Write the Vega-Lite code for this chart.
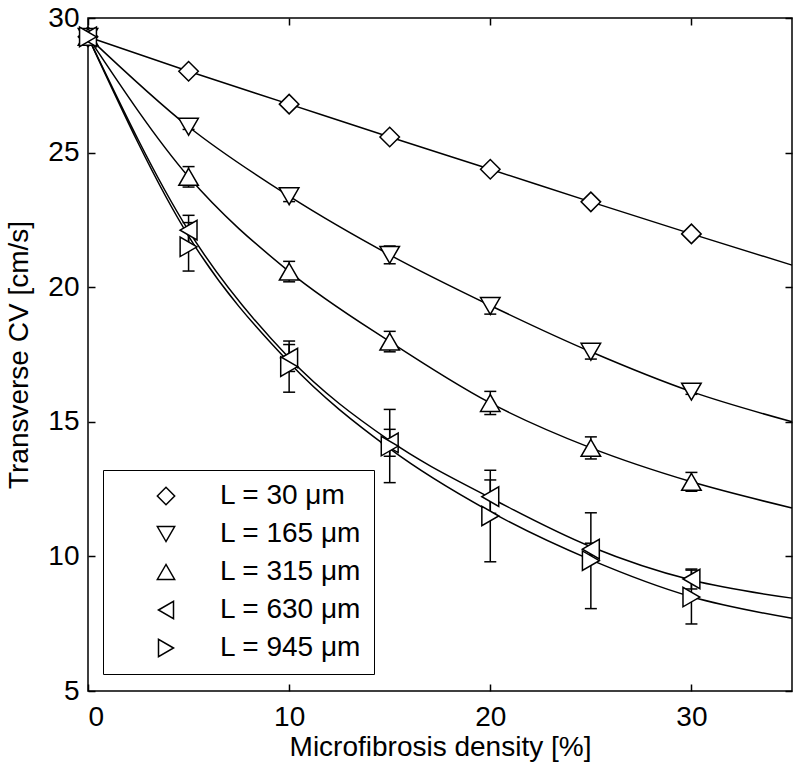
{
  "$schema": "https://vega.github.io/schema/vega-lite/v6.json",
  "width": 704,
  "height": 673,
  "autosize": {"type": "none"},
  "padding": {"left": 88, "top": 18, "right": 8, "bottom": 83},
  "background": "white",
  "config": {
    "view": {"stroke": "black", "strokeWidth": 1.5},
    "font": "Liberation Sans",
    "axis": {
      "domain": false,
      "grid": false,
      "tickSize": -7,
      "tickColor": "black",
      "tickWidth": 1.5,
      "labelFont": "Liberation Sans",
      "labelFontSize": 28,
      "labelColor": "black",
      "titleFont": "Liberation Sans",
      "titleFontSize": 28,
      "titleFontWeight": "normal",
      "titleColor": "black"
    }
  },
  "datasets": {
    "pts": [
      {"d": 0, "v": 29.3, "lo": 29.3, "hi": 29.3, "s": "L = 30 μm"},
      {"d": 5, "v": 28.02, "lo": 27.97, "hi": 28.07, "s": "L = 30 μm"},
      {"d": 10, "v": 26.8, "lo": 26.75, "hi": 26.85, "s": "L = 30 μm"},
      {"d": 15, "v": 25.58, "lo": 25.53, "hi": 25.63, "s": "L = 30 μm"},
      {"d": 20, "v": 24.38, "lo": 24.33, "hi": 24.43, "s": "L = 30 μm"},
      {"d": 25, "v": 23.17, "lo": 23.12, "hi": 23.22, "s": "L = 30 μm"},
      {"d": 30, "v": 21.98, "lo": 21.93, "hi": 22.03, "s": "L = 30 μm"},
      {"d": 0, "v": 29.3, "lo": 29.3, "hi": 29.3, "s": "L = 165 μm"},
      {"d": 5, "v": 25.96, "lo": 25.86, "hi": 26.06, "s": "L = 165 μm"},
      {"d": 10, "v": 23.38, "lo": 23.18, "hi": 23.58, "s": "L = 165 μm"},
      {"d": 15, "v": 21.2, "lo": 20.87, "hi": 21.53, "s": "L = 165 μm"},
      {"d": 20, "v": 19.3, "lo": 19.0, "hi": 19.6, "s": "L = 165 μm"},
      {"d": 25, "v": 17.6, "lo": 17.33, "hi": 17.87, "s": "L = 165 μm"},
      {"d": 30, "v": 16.12, "lo": 16.02, "hi": 16.22, "s": "L = 165 μm"},
      {"d": 0, "v": 29.3, "lo": 29.3, "hi": 29.3, "s": "L = 315 μm"},
      {"d": 5, "v": 24.1, "lo": 23.72, "hi": 24.48, "s": "L = 315 μm"},
      {"d": 10, "v": 20.58, "lo": 20.2, "hi": 20.96, "s": "L = 315 μm"},
      {"d": 15, "v": 17.98, "lo": 17.6, "hi": 18.36, "s": "L = 315 μm"},
      {"d": 20, "v": 15.7, "lo": 15.27, "hi": 16.13, "s": "L = 315 μm"},
      {"d": 25, "v": 14.03, "lo": 13.62, "hi": 14.44, "s": "L = 315 μm"},
      {"d": 30, "v": 12.77, "lo": 12.42, "hi": 13.12, "s": "L = 315 μm"},
      {"d": 0, "v": 29.3, "lo": 29.3, "hi": 29.3, "s": "L = 630 μm"},
      {"d": 5, "v": 22.12, "lo": 21.57, "hi": 22.67, "s": "L = 630 μm"},
      {"d": 10, "v": 17.37, "lo": 16.87, "hi": 17.87, "s": "L = 630 μm"},
      {"d": 15, "v": 14.22, "lo": 13.72, "hi": 14.72, "s": "L = 630 μm"},
      {"d": 20, "v": 12.22, "lo": 11.6, "hi": 12.84, "s": "L = 630 μm"},
      {"d": 25, "v": 10.27, "lo": 10.05, "hi": 10.49, "s": "L = 630 μm"},
      {"d": 30, "v": 9.16, "lo": 8.79, "hi": 9.53, "s": "L = 630 μm"},
      {"d": 0, "v": 29.3, "lo": 29.3, "hi": 29.3, "s": "L = 945 μm"},
      {"d": 5, "v": 21.5, "lo": 20.6, "hi": 22.4, "s": "L = 945 μm"},
      {"d": 10, "v": 17.05, "lo": 16.1, "hi": 18.0, "s": "L = 945 μm"},
      {"d": 15, "v": 14.1, "lo": 12.74, "hi": 15.46, "s": "L = 945 μm"},
      {"d": 20, "v": 11.5, "lo": 9.8, "hi": 13.2, "s": "L = 945 μm"},
      {"d": 25, "v": 9.84, "lo": 8.06, "hi": 11.62, "s": "L = 945 μm"},
      {"d": 30, "v": 8.49, "lo": 7.49, "hi": 9.49, "s": "L = 945 μm"}
    ],
    "fit": [
      {"d": 0, "v": 29.3, "s": "L = 30 μm"},
      {"d": 5, "v": 28.02, "s": "L = 30 μm"},
      {"d": 10, "v": 26.8, "s": "L = 30 μm"},
      {"d": 15, "v": 25.58, "s": "L = 30 μm"},
      {"d": 20, "v": 24.38, "s": "L = 30 μm"},
      {"d": 25, "v": 23.17, "s": "L = 30 μm"},
      {"d": 30, "v": 21.98, "s": "L = 30 μm"},
      {"d": 35, "v": 20.82, "s": "L = 30 μm"},
      {"d": 0, "v": 29.3, "s": "L = 165 μm"},
      {"d": 5, "v": 25.96, "s": "L = 165 μm"},
      {"d": 10, "v": 23.38, "s": "L = 165 μm"},
      {"d": 15, "v": 21.2, "s": "L = 165 μm"},
      {"d": 20, "v": 19.32, "s": "L = 165 μm"},
      {"d": 25, "v": 17.6, "s": "L = 165 μm"},
      {"d": 30, "v": 16.12, "s": "L = 165 μm"},
      {"d": 35, "v": 15.0, "s": "L = 165 μm"},
      {"d": 0, "v": 29.3, "s": "L = 315 μm"},
      {"d": 5, "v": 24.1, "s": "L = 315 μm"},
      {"d": 10, "v": 20.58, "s": "L = 315 μm"},
      {"d": 15, "v": 17.98, "s": "L = 315 μm"},
      {"d": 20, "v": 15.7, "s": "L = 315 μm"},
      {"d": 25, "v": 14.03, "s": "L = 315 μm"},
      {"d": 30, "v": 12.77, "s": "L = 315 μm"},
      {"d": 35, "v": 11.8, "s": "L = 315 μm"},
      {"d": 0, "v": 29.3, "s": "L = 630 μm"},
      {"d": 5, "v": 22.1, "s": "L = 630 μm"},
      {"d": 10, "v": 17.37, "s": "L = 630 μm"},
      {"d": 15, "v": 14.3, "s": "L = 630 μm"},
      {"d": 20, "v": 12.18, "s": "L = 630 μm"},
      {"d": 25, "v": 10.36, "s": "L = 630 μm"},
      {"d": 30, "v": 9.12, "s": "L = 630 μm"},
      {"d": 35, "v": 8.45, "s": "L = 630 μm"},
      {"d": 0, "v": 29.3, "s": "L = 945 μm"},
      {"d": 5, "v": 21.9, "s": "L = 945 μm"},
      {"d": 10, "v": 17.2, "s": "L = 945 μm"},
      {"d": 15, "v": 14.0, "s": "L = 945 μm"},
      {"d": 20, "v": 11.66, "s": "L = 945 μm"},
      {"d": 25, "v": 9.87, "s": "L = 945 μm"},
      {"d": 30, "v": 8.5, "s": "L = 945 μm"},
      {"d": 35, "v": 7.7, "s": "L = 945 μm"}
    ]
  },
  "resolve": {"axis": {"x": "independent", "y": "independent"}},
  "layer": [
    {
      "data": {"name": "fit"},
      "mark": {"type": "line", "color": "black", "strokeWidth": 1.5, "interpolate": "monotone"},
      "encoding": {
        "x": {"field": "d", "type": "quantitative",
              "scale": {"domain": [0, 35], "nice": false, "zero": false},
              "axis": {"orient": "bottom", "values": [0, 10, 20, 30], "title": "Microfibrosis density [%]", "labelPadding": 19, "titlePadding": 2}},
        "y": {"field": "v", "type": "quantitative",
              "scale": {"domain": [5, 30], "nice": false, "zero": false},
              "axis": {"orient": "left", "values": [5, 10, 15, 20, 25, 30], "title": "Transverse CV [cm/s]", "labelPadding": 16, "titlePadding": 14}},
        "detail": {"field": "s"}
      }
    },
    {
      "data": {"name": "pts"},
      "mark": {"type": "rule", "color": "black", "strokeWidth": 1.5},
      "encoding": {
        "x": {"field": "d", "type": "quantitative",
              "axis": {"orient": "top", "values": [0, 10, 20, 30], "labels": false, "title": null}},
        "y": {"field": "lo", "type": "quantitative",
              "axis": {"orient": "right", "values": [5, 10, 15, 20, 25, 30], "labels": false, "title": null}},
        "y2": {"field": "hi"}
      }
    },
    {
      "data": {"name": "pts"},
      "mark": {"type": "tick", "orient": "horizontal", "size": 12, "thickness": 1.5, "color": "black", "opacity": 1},
      "encoding": {
        "x": {"field": "d", "type": "quantitative", "axis": null},
        "y": {"field": "lo", "type": "quantitative", "axis": null}
      }
    },
    {
      "data": {"name": "pts"},
      "mark": {"type": "tick", "orient": "horizontal", "size": 12, "thickness": 1.5, "color": "black", "opacity": 1},
      "encoding": {
        "x": {"field": "d", "type": "quantitative", "axis": null},
        "y": {"field": "hi", "type": "quantitative", "axis": null}
      }
    },
    {
      "data": {"name": "pts"},
      "mark": {"type": "point", "filled": true, "fill": "white", "stroke": "black", "strokeWidth": 1.5, "opacity": 1, "size": 380},
      "encoding": {
        "x": {"field": "d", "type": "quantitative", "axis": null},
        "y": {"field": "v", "type": "quantitative", "axis": null},
        "shape": {"field": "s", "type": "nominal",
                  "scale": {"domain": ["L = 30 μm", "L = 165 μm", "L = 315 μm", "L = 630 μm", "L = 945 μm"],
                            "range": ["diamond", "triangle-down", "triangle-up", "triangle-left", "triangle-right"]},
                  "legend": {"title": null, "orient": "none", "legendX": 15, "legendY": 452,
                             "strokeColor": "black", "fillColor": "white", "padding": 12,
                             "labelFont": "Liberation Sans", "labelFontSize": 28, "labelColor": "black",
                             "symbolSize": 300, "symbolOffset": 37, "labelOffset": 40, "rowPadding": 10,
                             "encode": {"symbols": {"update": {"fill": {"value": "white"}, "stroke": {"value": "black"}, "strokeWidth": {"value": 1.5}, "opacity": {"value": 1}}}}}}
      }
    }
  ]
}
